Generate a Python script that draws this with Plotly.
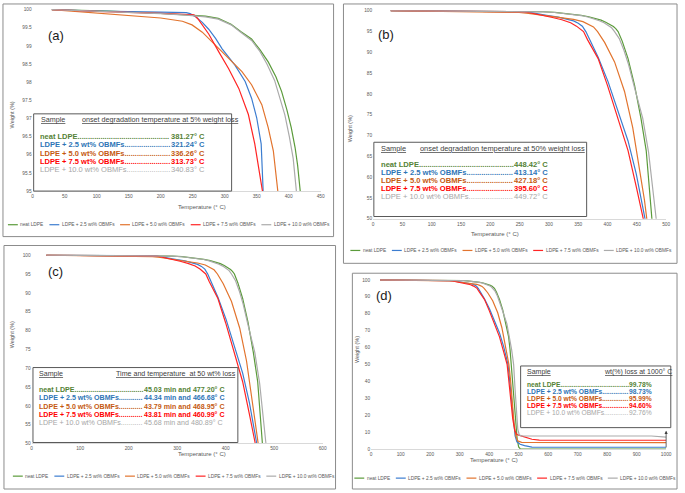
import plotly.graph_objects as go

W, H = 685, 493
FONT = "Liberation Sans, Arial, sans-serif"

# ── series ──
SERIES = ["neat LDPE", "LDPE + 2.5 wt% OBMFs", "LDPE + 5.0 wt% OBMFs",
          "LDPE + 7.5 wt% OBMFs", "LDPE + 10.0 wt% OBMFs"]
LINE_COLORS = ["#5B9B3B", "#3C7DD0", "#E2742E", "#FF2424", "#ABABAB"]
TEXT_COLORS = ["#548235", "#2E75B6", "#C55A11", "#FF0000", "#A6A6A6"]
TEXT_BOLD = [True, True, True, True, False]

# ── TGA curves: temperature (°C) / weight (%) ──
neat_t = [30, 120, 200, 240, 270, 290, 310, 325, 342, 355, 368, 380, 389, 397, 404,
          410, 414, 418, 425, 435, 446, 457, 466, 471, 475, 480, 485, 490, 495, 500,
          505, 550, 1000]
neat_w = [100, 99.96, 99.9, 99.86, 99.82, 99.76, 99.6, 99.4, 99.19, 98.9, 98.56, 98.15,
          97.74, 97.25, 96.75, 96.2, 95.7, 95.0, 92.7, 88.5, 82.2, 74.2, 66.4, 58.5,
          50.2, 40, 28, 15, 6, 1.5, 0.4, 0.25, 0.22]

ob25_t = [30, 100, 200, 240, 246, 255, 265, 275, 286, 296, 316, 332, 342, 350, 357,
          363, 370, 384, 401, 418, 435, 449, 460, 464, 470, 476, 482, 488, 494, 505,
          520, 545, 1000]
ob25_w = [100, 99.96, 99.93, 99.92, 99.89, 99.8, 99.65, 99.46, 99.2, 98.92, 98.47,
          98.02, 97.56, 97.02, 96.3, 95.0, 93.0, 88.8, 82.9, 75.8, 68.7, 60.8, 52.9,
          50, 40, 28, 16, 8, 4.5, 3.0, 2.2, 1.4, 1.27]

ob50_t = [30, 100, 150, 200, 234, 249, 265, 286, 306, 327, 342, 358, 368, 376, 383,
          395, 412, 429, 443, 454, 463, 467, 473, 478, 484, 490, 497, 510, 1000]
ob50_w = [100, 99.9, 99.84, 99.77, 99.68, 99.58, 99.38, 99.01, 98.65, 98.29, 97.93,
          97.38, 96.75, 96.11, 95.0, 92.4, 87.7, 80.6, 71.9, 62.4, 54.5, 50, 40, 28,
          16, 8, 5, 4.2, 4.01]

ob75_t = [30, 100, 200, 240, 252, 258, 265, 275, 291, 306, 322, 337, 347, 355, 359,
          366, 384, 400, 418, 435, 449, 461, 467, 473, 480, 487, 494, 503, 520, 545,
          570, 1000]
ob75_w = [100, 99.95, 99.9, 99.88, 99.86, 99.75, 99.58, 99.33, 98.83, 98.38, 97.83,
          97.11, 96.3, 95.5, 95.0, 93.0, 88.5, 82.0, 74.0, 66.4, 57.7, 50, 40, 28, 18,
          11, 8.8, 8.3, 7.3, 6.0, 5.5, 5.4]

ob100_t = [30, 120, 200, 240, 270, 290, 310, 325, 342, 355, 366, 378, 386, 394, 401,
           407, 412, 420, 428, 436, 446, 460, 470, 476, 480, 483, 488, 492, 497, 502,
           510, 950, 1000]
ob100_w = [100, 99.95, 99.89, 99.85, 99.8, 99.74, 99.58, 99.38, 99.15, 98.85, 98.5,
           98.05, 97.6, 97.1, 96.5, 95.9, 95.0, 93.3, 90.5, 87, 81.5, 74.2, 66, 59, 54,
           50, 35, 22, 12, 8.5, 8.0, 7.9, 7.24]

TEMPS = [neat_t, ob25_t, ob50_t, ob75_t, ob100_t]
WEIGHTS = [neat_w, ob25_w, ob50_w, ob75_w, ob100_w]

# ── values written in the boxes ──
ONSET_5 = ["381.27° C", "321.24° C", "336.26° C", "313.73° C", "340.83° C"]
ONSET_50 = ["448.42° C", "413.14° C", "427.18° C", "395.60° C", "449.72° C"]
TIME_50 = ["45.03 min and 477.20° C", "44.34 min and 466.68° C",
           "43.79 min and 468.95° C", "43.81 min and 460.99° C",
           "45.68 min and 480.89° C"]
LOSS_1000 = ["99.78%", "98.73%", "95.99%", "94.60%", "92.76%"]

X_TITLE = "Temperature (° C)"
Y_TITLE = "Weight (%)"

# ── panel geometry (pixels) ──
PANELS = [
    dict(tag="(a)", xr=[0, 450], xd=50, yr=[95, 100.02], yd=0.5,
         frame=(2, 2, 336, 237), plot=(32, 7, 323, 191), tag_xy=(45, 24),
         ytitle_x=8, xtitle_y=207, legend=(7, 225),
         box=(33, 113, 233, 191), head=("onset degradation temperature at 5% weight loss", 80, 119, 7.2),
         sample_x=38, row_x=37.7, row_y=136, row_dy=8.3, row_size=7.5, val_x=169.3, values=ONSET_5),
    dict(tag="(b)", xr=[0, 500], xd=50, yr=[50, 100.2], yd=5,
         frame=(346, 2, 683, 264), plot=(376, 8, 672, 219), tag_xy=(389, 23),
         ytitle_x=352, xtitle_y=234, legend=(353, 251),
         box=(376.7, 141.7, 591.7, 216.7), head=("onset degradation temperature at 50% weight loss", 421, 147.7, 7.4),
         sample_x=381.7, row_x=381.7, row_y=164, row_dy=8.2, row_size=7.6, val_x=516, values=ONSET_50),
    dict(tag="(c)", xr=[0, 600], xd=100, yr=[50, 100.2], yd=5,
         frame=(3, 246, 338, 492), plot=(31, 255, 325, 446), tag_xy=(45, 272),
         ytitle_x=8, xtitle_y=461, legend=(12, 479),
         box=(32.3, 369.3, 239.3, 445), head=("Time and temperature\u00a0 at 50 wt% loss", 114.3, 376, 7.1),
         sample_x=36.7, row_x=36.7, row_y=392.3, row_dy=8.2, row_size=7.1, val_x=142.7, values=TIME_50),
    dict(tag="(d)", xr=[0, 1000], xd=100, yr=[0, 100.4], yd=10,
         frame=(355, 274, 683, 492), plot=(374, 280, 672, 452), tag_xy=(387, 297),
         ytitle_x=359, xtitle_y=467, legend=(357, 481),
         box=(525, 367.7, 676.7, 430), head=("wt(%) loss at 1000° C", 606.7, 373.3, 7.0),
         sample_x=529.3, row_x=529.3, row_y=386.3, row_dy=7.0, row_size=6.7, val_x=632.3, values=LOSS_1000),
]

# Arial / Liberation Sans advance widths (1/1000 em) for the label strings
_REG = {" ": 278, "%": 889, "+": 584, ".": 278, "B": 667, "D": 722, "E": 667, "F": 611,
        "L": 556, "M": 833, "O": 778, "P": 667, "a": 556, "e": 556, "n": 556, "s": 500,
        "t": 278, "w": 722}
_BOLD = {" ": 278, "%": 889, "+": 584, ".": 278, "B": 722, "D": 722, "E": 667, "F": 611,
         "L": 611, "M": 833, "O": 778, "P": 667, "a": 556, "e": 556, "n": 611, "s": 556,
         "t": 333, "w": 778}


def text_px(s, size, bold=False):
    table = _BOLD if bold else _REG
    return sum(table.get(c, 556) for c in s) * size / 1000


def fx(p):
    return p / W


def fy(p):
    return 1 - p / H


fig = go.Figure()
shapes, annos = [], []

for k, pn in enumerate(PANELS):
    sfx = "" if k == 0 else str(k + 1)
    x0, y0, x1, y1 = pn["plot"]
    tickfont = dict(family=FONT, size=4.8, color="#595959")
    fig.update_layout(**{
        f"xaxis{sfx}": dict(domain=[fx(x0), fx(x1)], range=pn["xr"], dtick=pn["xd"], tick0=0,
                            anchor=f"y{sfx}", showgrid=False, zeroline=False, showline=True,
                            linecolor="#D9D9D9", linewidth=1, ticks="", tickfont=tickfont),
        f"yaxis{sfx}": dict(domain=[fy(y1), fy(y0)], range=pn["yr"], dtick=pn["yd"], tick0=0,
                            anchor=f"x{sfx}", showgrid=False, zeroline=False, showline=False,
                            ticks="", tickfont=tickfont),
    })
    for i, name in enumerate(SERIES):
        fig.add_trace(go.Scatter(
            x=TEMPS[i], y=WEIGHTS[i], mode="lines", name=name,
            line=dict(color=LINE_COLORS[i], width=1.2),
            xaxis=f"x{sfx}", yaxis=f"y{sfx}", showlegend=False, hoverinfo="skip",
        ))

    # panel frame
    fx0, fy0, fx1, fy1 = pn["frame"]
    shapes.append(dict(type="rect", xref="paper", yref="paper", x0=fx(fx0), x1=fx(fx1),
                       y0=fy(fy1), y1=fy(fy0), line=dict(color="#8C8C8C", width=1)))

    # panel tag and axis titles
    annos.append(dict(text=pn["tag"], x=fx(pn["tag_xy"][0]), y=fy(pn["tag_xy"][1]),
                      xref="paper", yref="paper", showarrow=False,
                      font=dict(family=FONT, size=13, color="#1A1A1A")))
    annos.append(dict(text=X_TITLE, x=fx((x0 + x1) / 2), y=fy(pn["xtitle_y"]),
                      xref="paper", yref="paper", showarrow=False, borderpad=0,
                      font=dict(family=FONT, size=6, color="#595959")))
    annos.append(dict(text=Y_TITLE, x=fx(pn["ytitle_x"]), y=fy((y0 + y1) / 2), textangle=-90,
                      xref="paper", yref="paper", showarrow=False, borderpad=0,
                      font=dict(family=FONT, size=5.5, color="#595959")))

    # legend row
    lx, ly = pn["legend"]
    for i, name in enumerate(SERIES):
        shapes.append(dict(type="line", xref="paper", yref="paper", x0=fx(lx), x1=fx(lx + 10),
                           y0=fy(ly), y1=fy(ly), line=dict(color=LINE_COLORS[i], width=1.2)))
        annos.append(dict(text=name, x=fx(lx + 11.5), y=fy(ly), xanchor="left", yanchor="middle",
                          xref="paper", yref="paper", showarrow=False, borderpad=0,
                          font=dict(family=FONT, size=4.8, color="#595959")))
        lx += 11.5 + text_px(name, 4.8) + 7.2

    # result box
    bx0, by0, bx1, by1 = pn["box"]
    shapes.append(dict(type="rect", xref="paper", yref="paper", x0=fx(bx0), x1=fx(bx1),
                       y0=fy(by1), y1=fy(by0), fillcolor="white", layer="above",
                       line=dict(color="#595959", width=1)))
    head_text, hx, hy, hsize = pn["head"]
    hfont = dict(family=FONT, size=hsize, color="#404040")
    annos.append(dict(text="<u>Sample</u>", x=fx(pn["sample_x"]), y=fy(hy), xanchor="left",
                      yanchor="middle", xref="paper", yref="paper", showarrow=False, font=hfont))
    annos.append(dict(text=f"<u>{head_text}</u>", x=fx(hx), y=fy(hy), xanchor="left",
                      yanchor="middle", xref="paper", yref="paper", showarrow=False, font=hfont))
    size = pn["row_size"]
    for i, name in enumerate(SERIES):
        bold = TEXT_BOLD[i]
        ry = pn["row_y"] + i * pn["row_dy"]
        end = pn["row_x"] + text_px(name, size, bold)
        ndots = max(0, int((pn["val_x"] - end - 0.5) / text_px(".", size, bold)))
        label = name + "." * ndots
        val = pn["values"][i]
        if bold:
            label, val = f"<b>{label}</b>", f"<b>{val}</b>"
        rfont = dict(family=FONT, size=size, color=TEXT_COLORS[i])
        annos.append(dict(text=label, x=fx(pn["row_x"]), y=fy(ry), xanchor="left", yanchor="middle",
                          xref="paper", yref="paper", showarrow=False, font=rfont))
        annos.append(dict(text=val, x=fx(pn["val_x"]), y=fy(ry), xanchor="left", yanchor="middle",
                          xref="paper", yref="paper", showarrow=False, font=rfont))

# connector arrow under the (d) box
annos.append(dict(x=1000, y=11, ax=1000, ay=0.3, xref="x4", yref="y4", axref="x4", ayref="y4",
                  text="", showarrow=True, arrowhead=2, arrowsize=0.8, arrowwidth=0.8,
                  arrowcolor="#404040"))

fig.update_layout(
    width=W, height=H,
    margin=dict(l=0, r=0, t=0, b=0),
    paper_bgcolor="white", plot_bgcolor="white",
    showlegend=False,
    font=dict(family=FONT),
    shapes=shapes, annotations=annos,
)

# drop the default page margin so the figure sits at the window's corner
fig.write_html("out.html", config={"displayModeBar": False},
               post_script="document.body.style.margin='0';")
